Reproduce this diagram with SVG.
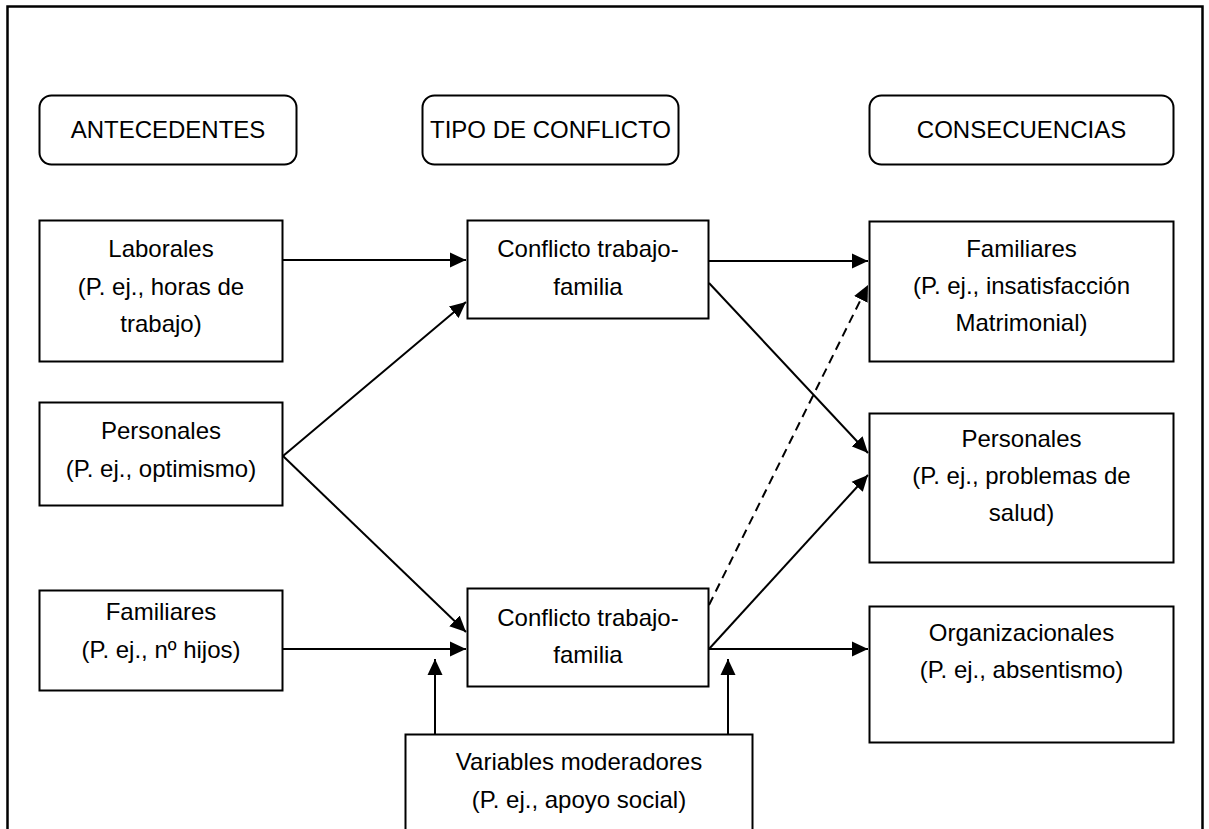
<svg xmlns="http://www.w3.org/2000/svg" width="1209" height="829" viewBox="0 0 1209 829">
<defs>
<style>
.box{fill:#fff;stroke:#000;stroke-width:2}
.t{font-family:"Liberation Sans",Arial,sans-serif;font-size:24px;fill:#000;text-anchor:middle}
.c{fill:none;stroke:#000;stroke-width:2}
.d{stroke-dasharray:9,6}
</style>
<marker id="ah" markerUnits="userSpaceOnUse" markerWidth="17" markerHeight="16" refX="16" refY="8" orient="auto">
<path d="M0,0.5 L16,8 L0,15.5 z" fill="#000"/>
</marker>
</defs>
<rect width="1209" height="829" fill="#fff"/>
<path d="M7.5,840 V6.5 H1202.5 V840" fill="none" stroke="#000" stroke-width="2.5"/>

<g id="h-antecedentes"><rect class="box" x="39.5" y="95.5" width="257" height="69" rx="12"/><text class="t" x="168" y="138">ANTECEDENTES</text></g>
<g id="h-tipo"><rect class="box" x="422.5" y="95.5" width="256" height="69" rx="12"/><text class="t" x="550.5" y="138">TIPO DE CONFLICTO</text></g>
<g id="h-consecuencias"><rect class="box" x="869.5" y="95.5" width="304" height="69" rx="12"/><text class="t" x="1021.5" y="138">CONSECUENCIAS</text></g>

<g id="connectors">
<line class="c" x1="283" y1="260" x2="466" y2="260" marker-end="url(#ah)"/>
<line class="c" x1="283" y1="456" x2="466" y2="302" marker-end="url(#ah)"/>
<line class="c" x1="283" y1="456" x2="466" y2="632" marker-end="url(#ah)"/>
<line class="c" x1="283" y1="649" x2="466" y2="649" marker-end="url(#ah)"/>
<line class="c" x1="709" y1="261" x2="868" y2="261" marker-end="url(#ah)"/>
<line class="c" x1="709" y1="283" x2="868" y2="453" marker-end="url(#ah)"/>
<line class="c d" x1="709" y1="605" x2="868" y2="285" marker-end="url(#ah)"/>
<line class="c" x1="709" y1="649" x2="868" y2="475" marker-end="url(#ah)"/>
<line class="c" x1="709" y1="649" x2="868" y2="649" marker-end="url(#ah)"/>
<line class="c" x1="435" y1="734" x2="435" y2="659" marker-end="url(#ah)"/>
<line class="c" x1="728" y1="734" x2="728" y2="659" marker-end="url(#ah)"/>
</g>

<g id="a-laborales"><rect class="box" x="39.5" y="220.5" width="243" height="141"/>
<text class="t" x="161" y="257">Laborales</text><text class="t" x="161" y="295">(P. ej., horas de</text><text class="t" x="161" y="332">trabajo)</text></g>
<g id="a-personales"><rect class="box" x="39.5" y="402.5" width="243" height="103"/>
<text class="t" x="161" y="439">Personales</text><text class="t" x="161" y="477">(P. ej., optimismo)</text></g>
<g id="a-familiares"><rect class="box" x="39.5" y="590.5" width="243" height="100"/>
<text class="t" x="161" y="620">Familiares</text><text class="t" x="161" y="658">(P. ej., nº hijos)</text></g>

<g id="c-top"><rect class="box" x="467.5" y="220.5" width="241" height="98"/>
<text class="t" x="588" y="257">Conflicto trabajo-</text><text class="t" x="588" y="295">familia</text></g>
<g id="c-bottom"><rect class="box" x="467.5" y="588.5" width="241" height="98"/>
<text class="t" x="588" y="626">Conflicto trabajo-</text><text class="t" x="588" y="663">familia</text></g>

<g id="r-familiares"><rect class="box" x="869.5" y="221.5" width="304" height="140"/>
<text class="t" x="1021.5" y="257">Familiares</text><text class="t" x="1021.5" y="294">(P. ej., insatisfacción</text><text class="t" x="1021.5" y="331">Matrimonial)</text></g>
<g id="r-personales"><rect class="box" x="869.5" y="413.5" width="304" height="149"/>
<text class="t" x="1021.5" y="447">Personales</text><text class="t" x="1021.5" y="484">(P. ej., problemas de</text><text class="t" x="1021.5" y="521">salud)</text></g>
<g id="r-organizacionales"><rect class="box" x="869.5" y="606.5" width="304" height="136"/>
<text class="t" x="1021.5" y="641">Organizacionales</text><text class="t" x="1021.5" y="678">(P. ej., absentismo)</text></g>

<g id="moderadores"><rect class="box" x="405.5" y="734.5" width="347" height="120"/>
<text class="t" x="579" y="770">Variables moderadores</text><text class="t" x="579" y="808">(P. ej., apoyo social)</text></g>
</svg>
